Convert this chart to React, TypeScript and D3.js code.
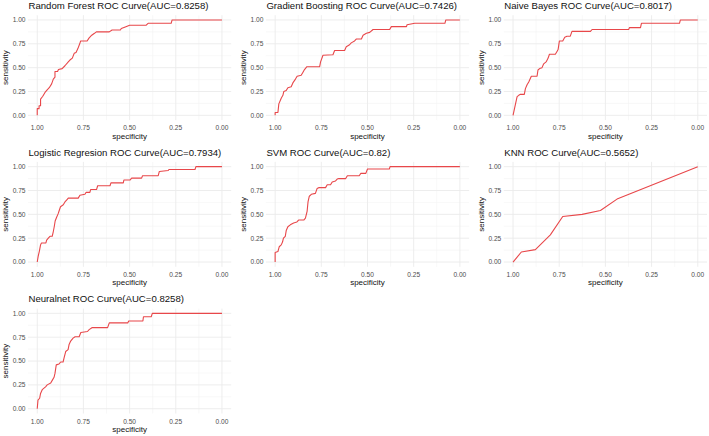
import React, { useEffect, useRef } from 'react';
import * as d3 from 'd3';

// ROC points as [specificity, sensitivity]
const rfRoc: [number, number][] = [
  [1, 0], [1, 0.07], [0.99, 0.07], [0.99, 0.1], [0.982, 0.1], [0.982, 0.17], [0.97, 0.2], [0.958, 0.24],
  [0.945, 0.27], [0.935, 0.29], [0.922, 0.33], [0.913, 0.38], [0.904, 0.4], [0.904, 0.46], [0.89, 0.46],
  [0.885, 0.48], [0.865, 0.49], [0.85, 0.52], [0.832, 0.56], [0.823, 0.58], [0.81, 0.6], [0.8, 0.65],
  [0.79, 0.66], [0.78, 0.7], [0.77, 0.75], [0.765, 0.78], [0.73, 0.78], [0.72, 0.81], [0.705, 0.84],
  [0.69, 0.86], [0.68, 0.875], [0.61, 0.875], [0.595, 0.895], [0.55, 0.895], [0.545, 0.91], [0.52, 0.93],
  [0.5, 0.945], [0.41, 0.945], [0.4, 0.965], [0.275, 0.965], [0.27, 1], [0, 1],
];

const gbRoc: [number, number][] = [
  [1, 0], [1, 0.03], [0.985, 0.03], [0.98, 0.12], [0.967, 0.18], [0.958, 0.21], [0.953, 0.25], [0.94, 0.26],
  [0.931, 0.29], [0.913, 0.3], [0.904, 0.34], [0.89, 0.38], [0.881, 0.41], [0.859, 0.42], [0.85, 0.45],
  [0.841, 0.48], [0.828, 0.51], [0.759, 0.51], [0.754, 0.56], [0.741, 0.63], [0.687, 0.635], [0.678, 0.68],
  [0.624, 0.68], [0.615, 0.72], [0.597, 0.74], [0.588, 0.76], [0.57, 0.78], [0.561, 0.8], [0.533, 0.8],
  [0.524, 0.84], [0.506, 0.86], [0.488, 0.87], [0.47, 0.9], [0.38, 0.9], [0.371, 0.93], [0.289, 0.93],
  [0.286, 0.95], [0.244, 0.965], [0.081, 0.965], [0.076, 1], [0, 1],
];

const nbRoc: [number, number][] = [
  [1, 0], [0.978, 0.196], [0.969, 0.21], [0.96, 0.22], [0.939, 0.22], [0.933, 0.28], [0.924, 0.32],
  [0.915, 0.35], [0.901, 0.41], [0.87, 0.41], [0.865, 0.475], [0.856, 0.49], [0.843, 0.5], [0.834, 0.54],
  [0.821, 0.56], [0.81, 0.6], [0.803, 0.64], [0.771, 0.64], [0.762, 0.67], [0.756, 0.69], [0.749, 0.78],
  [0.731, 0.78], [0.72, 0.82], [0.708, 0.83], [0.69, 0.83], [0.681, 0.88], [0.581, 0.88], [0.572, 0.9],
  [0.374, 0.9], [0.37, 0.92], [0.31, 0.92], [0.305, 0.965], [0.099, 0.965], [0.094, 1], [0, 1],
];

const lrRoc: [number, number][] = [
  [1, 0], [0.995, 0.06], [0.989, 0.11], [0.982, 0.18], [0.977, 0.2], [0.953, 0.2], [0.949, 0.23], [0.94, 0.25],
  [0.931, 0.27], [0.919, 0.27], [0.913, 0.32], [0.908, 0.37], [0.903, 0.43], [0.895, 0.47], [0.886, 0.51],
  [0.881, 0.54], [0.874, 0.58], [0.859, 0.6], [0.85, 0.63], [0.841, 0.65], [0.832, 0.67], [0.778, 0.67],
  [0.769, 0.7], [0.742, 0.71], [0.736, 0.73], [0.715, 0.73], [0.711, 0.76], [0.679, 0.76], [0.673, 0.8],
  [0.606, 0.8], [0.601, 0.83], [0.534, 0.83], [0.531, 0.86], [0.498, 0.86], [0.489, 0.88], [0.435, 0.88],
  [0.43, 0.905], [0.345, 0.905], [0.339, 0.95], [0.291, 0.96], [0.287, 0.97], [0.146, 0.97], [0.141, 1], [0, 1],
];

const svmRoc: [number, number][] = [
  [1, 0], [1, 0.1], [0.985, 0.11], [0.978, 0.16], [0.967, 0.18], [0.96, 0.21], [0.955, 0.25], [0.945, 0.27],
  [0.94, 0.33], [0.931, 0.37], [0.918, 0.39], [0.9, 0.41], [0.882, 0.42], [0.873, 0.44], [0.845, 0.44],
  [0.836, 0.46], [0.827, 0.53], [0.822, 0.63], [0.815, 0.69], [0.804, 0.71], [0.782, 0.72], [0.773, 0.77],
  [0.764, 0.78], [0.727, 0.78], [0.718, 0.81], [0.7, 0.81], [0.691, 0.84], [0.673, 0.85], [0.664, 0.87],
  [0.655, 0.875], [0.618, 0.875], [0.609, 0.905], [0.545, 0.905], [0.536, 0.93], [0.509, 0.93], [0.5, 0.975],
  [0.382, 0.975], [0.378, 1], [0, 1],
];

const knnRoc: [number, number][] = [
  [1, 0], [0.955, 0.105], [0.879, 0.13], [0.798, 0.285], [0.731, 0.477], [0.626, 0.5], [0.527, 0.54],
  [0.437, 0.66], [0, 1],
];

const nnRoc: [number, number][] = [
  [1, 0], [0.996, 0.09], [0.987, 0.11], [0.982, 0.16], [0.973, 0.2], [0.955, 0.23], [0.946, 0.25], [0.927, 0.27],
  [0.918, 0.3], [0.909, 0.33], [0.904, 0.37], [0.897, 0.46], [0.882, 0.47], [0.873, 0.49], [0.86, 0.49],
  [0.855, 0.53], [0.846, 0.6], [0.833, 0.62], [0.828, 0.67], [0.819, 0.71], [0.806, 0.74], [0.795, 0.755],
  [0.773, 0.755], [0.764, 0.8], [0.728, 0.81], [0.719, 0.83], [0.704, 0.85], [0.619, 0.85], [0.61, 0.9],
  [0.51, 0.9], [0.505, 0.92], [0.428, 0.92], [0.425, 0.965], [0.383, 0.965], [0.377, 1], [0, 1],
];

const modelNames = ['Random Forest', 'Gradient Boosting', 'Naive Bayes', 'Logistic Regresion', 'SVM', 'KNN', 'Neuralnet'];
const aucLabels = ['0.8258', '0.7426', '0.8017', '0.7934', '0.82', '0.5652', '0.8258'];
const rocCurves = [rfRoc, gbRoc, nbRoc, lrRoc, svmRoc, knnRoc, nnRoc];

const majorTicks = [0, 0.25, 0.5, 0.75, 1];
const minorTicks = [0.125, 0.375, 0.625, 0.875];

const W = 709;
const H = 436;

export default function App() {
  const svgRef = useRef<SVGSVGElement>(null);

  useEffect(() => {
    if (!svgRef.current) return;
    const svg = d3.select(svgRef.current);
    svg.selectAll('*').remove();

    const font = "'Liberation Sans', Arial, sans-serif";
    const panelW = 203.2;
    const panelH = 104.9;

    rocCurves.forEach((pts, i) => {
      const col = i % 3;
      const row = Math.floor(i / 3);
      const left = 28 + col * 237.9;
      const top = 15.2 + row * 146.7;

      // ggplot-style 5% expansion on both axes
      const x = d3.scaleLinear().domain([1.05, -0.05]).range([left, left + panelW]);
      const y = d3.scaleLinear().domain([-0.05, 1.05]).range([top + panelH, top]);

      const g = svg.append('g');

      g.selectAll('line.minor-x').data(minorTicks).enter().append('line')
        .attr('x1', d => x(d)).attr('x2', d => x(d))
        .attr('y1', top).attr('y2', top + panelH)
        .attr('stroke', '#f4f4f4').attr('stroke-width', 0.6);
      g.selectAll('line.minor-y').data(minorTicks).enter().append('line')
        .attr('x1', left).attr('x2', left + panelW)
        .attr('y1', d => y(d)).attr('y2', d => y(d))
        .attr('stroke', '#f4f4f4').attr('stroke-width', 0.6);
      g.selectAll('line.major-x').data(majorTicks).enter().append('line')
        .attr('x1', d => x(d)).attr('x2', d => x(d))
        .attr('y1', top).attr('y2', top + panelH)
        .attr('stroke', '#ebebeb').attr('stroke-width', 0.9);
      g.selectAll('line.major-y').data(majorTicks).enter().append('line')
        .attr('x1', left).attr('x2', left + panelW)
        .attr('y1', d => y(d)).attr('y2', d => y(d))
        .attr('stroke', '#ebebeb').attr('stroke-width', 0.9);

      const line = d3.line<[number, number]>()
        .x(d => x(d[0]))
        .y(d => y(d[1]));

      g.append('path')
        .datum(pts)
        .attr('d', line)
        .attr('fill', 'none')
        .attr('stroke', '#e8474a')
        .attr('stroke-width', 1.1)
        .attr('stroke-linejoin', 'round');

      // tick labels
      g.selectAll('text.xt').data(majorTicks).enter().append('text')
        .attr('x', d => x(d))
        .attr('y', top + panelH + 10)
        .attr('text-anchor', 'middle')
        .style('font-family', font)
        .style('font-size', '6.6px')
        .attr('fill', '#4d4d4d')
        .text(d => d3.format('.2f')(d));
      g.selectAll('text.yt').data(majorTicks).enter().append('text')
        .attr('x', left - 2.5)
        .attr('y', d => y(d))
        .attr('dy', '0.35em')
        .attr('text-anchor', 'end')
        .style('font-family', font)
        .style('font-size', '6.6px')
        .attr('fill', '#4d4d4d')
        .text(d => d3.format('.2f')(d));

      // axis titles
      g.append('text')
        .attr('x', left + panelW / 2)
        .attr('y', top + panelH + 18.4)
        .attr('text-anchor', 'middle')
        .style('font-family', font)
        .style('font-size', '8px')
        .attr('fill', '#111')
        .text('specificity');
      g.append('text')
        .attr('transform', `translate(${left - 22.5},${top + panelH / 2}) rotate(-90)`)
        .attr('dy', '0.35em')
        .attr('text-anchor', 'middle')
        .style('font-family', font)
        .style('font-size', '8px')
        .attr('fill', '#111')
        .text('sensitivity');

      g.append('text')
        .attr('x', left + 0.5)
        .attr('y', top - 6.2)
        .style('font-family', font)
        .style('font-size', '9.6px')
        .attr('fill', '#111')
        .text(`${modelNames[i]} ROC Curve(AUC=${aucLabels[i]})`);
    });
  }, []);

  return (
    <svg
      ref={svgRef}
      width={W}
      height={H}
      style={{ position: 'absolute', left: 0, top: 0, background: '#fff' }}
    />
  );
}
